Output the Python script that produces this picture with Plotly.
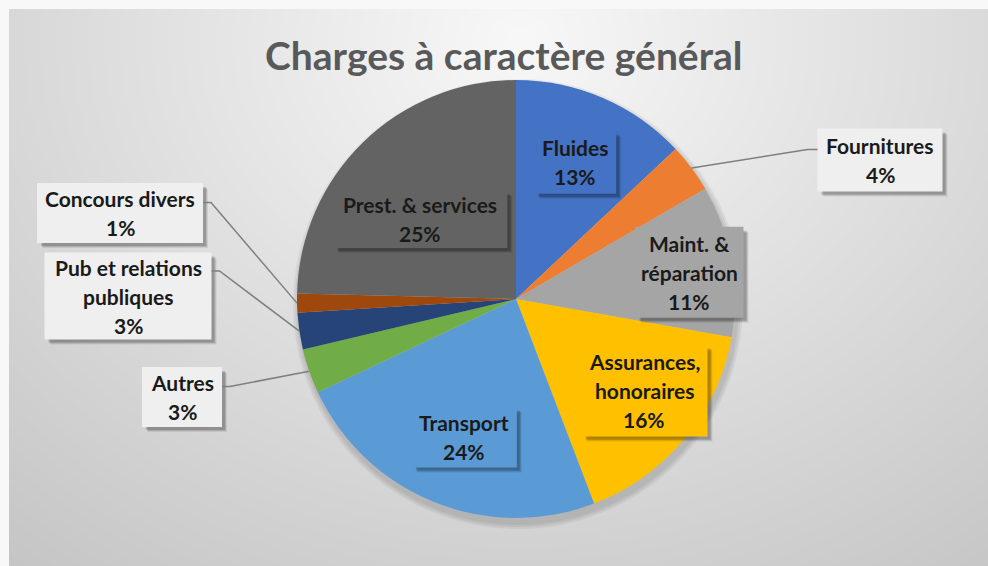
import base64, struct, zlib, math
import numpy as np
import plotly.graph_objects as go

# ---------------- data ----------------
categories = ["Fluides", "Fournitures", "Maint. & réparation", "Assurances, honoraires",
              "Transport", "Autres", "Pub et relations publiques", "Concours divers",
              "Prest. & services"]
values = [13.0, 3.6, 11.2, 16.4, 23.8, 3.3, 2.7, 1.4, 24.6]
label_lines = [["Fluides"], ["Fournitures"], ["Maint. &", "réparation"],
               ["Assurances,", "honoraires"], ["Transport"], ["Autres"],
               ["Pub et relations", "publiques"], ["Concours divers"], ["Prest. & services"]]
colors = ["#4472C4", "#ED7D31", "#A5A5A5", "#FFC000", "#5B9BD5", "#70AD47",
          "#264478", "#9E480E", "#636363"]
title_text = "Charges à caractère général"

# ---------------- layout constants (pixels) ----------------
W, H = 988, 566
CX, CY, R = 516, 299, 219
FONT = "Lato"
FSIZE = 21
LINE_H = 29


def px(x):
    return x / W


def py(y):
    return 1 - y / H


def mid_angle(i):
    tot = sum(values)
    before = sum(values[:i])
    frac = (before + values[i] / 2) / tot
    return math.radians(90 - 360 * frac)


def polar(i, rf):
    a = mid_angle(i)
    return CX + rf * R * math.cos(a), CY - rf * R * math.sin(a)


# ---------------- background gradient image ----------------
BX0, BY0 = 9, 9
bw, bh = W - BX0, H - BY0
yy, xx = np.mgrid[0:bh, 0:bw]
d = np.sqrt(((xx + BX0 - 520) / 720.0) ** 2 + ((yy + BY0 - 40) / 600.0) ** 2)
g = np.clip(248 - 45 * np.clip(d, 0, 1.15), 0, 255).astype(np.uint8)
raw = b"".join(b"\x00" + g[r].tobytes() for r in range(bh))


def chunk(t, data):
    c = struct.pack(">I", len(data)) + t + data
    return c + struct.pack(">I", zlib.crc32(t + data) & 0xFFFFFFFF)


png = (b"\x89PNG\r\n\x1a\n" + chunk(b"IHDR", struct.pack(">IIBBBBB", bw, bh, 8, 0, 0, 0, 0))
       + chunk(b"IDAT", zlib.compress(raw, 9)) + chunk(b"IEND", b""))
src = "data:image/png;base64," + base64.b64encode(png).decode()

fig = go.Figure()
fig.add_trace(go.Pie(
    labels=categories, values=values, sort=False, direction="clockwise", rotation=0,
    marker=dict(colors=colors, line=dict(width=0)), textinfo="none", hoverinfo="label+percent",
    showlegend=False,
    domain=dict(x=[px(CX - R), px(CX + R)], y=[py(CY + R), py(CY - R)]),
))

shapes = []
annotations = []

# pie soft shadow
for k, a in enumerate([0.05, 0.05, 0.05]):
    rr = R + 2 + 2 * k
    shapes.append(dict(type="circle", xref="paper", yref="paper", layer="below",
                       x0=px(CX + 2 - rr), x1=px(CX + 2 + rr), y0=py(CY + 5 + rr), y1=py(CY + 5 - rr),
                       fillcolor=f"rgba(0,0,0,{a})", line=dict(width=0)))

# label boxes: inside labels via polar anchor (r fraction, shift), outside via fixed box centers
inside = {0: (0.68, (0, 0), 82, 63), 2: (0.8, (1, 4), 108, 91), 3: (0.72, (7, -9), 126, 92),
          4: (0.68, (4, 0), 105, 61), 8: (0.58, (-7, 11), 174, 58)}
outside = {1: ((880, 160), 125, 63, "left"), 7: ((120, 213), 166, 60, "right"),
           6: ((128, 296), 167, 87, "right"), 5: ((182, 397), 80, 60, "right")}

OUT_FILL = "#EFEFEF"


def box(cx, cy, w, h, fill):
    x0, x1, y0, y1 = cx - w / 2, cx + w / 2, cy - h / 2, cy + h / 2
    # shadow
    for k, a in enumerate([0.08, 0.12, 0.16]):
        o = 5 - k
        shapes.append(dict(type="rect", xref="paper", yref="paper", layer="above",
                           x0=px(x0 + o + 1), x1=px(x1 + o), y0=py(y1 + o), y1=py(y0 + o + 1),
                           fillcolor=f"rgba(0,0,0,{a})", line=dict(width=0)))
    shapes.append(dict(type="rect", xref="paper", yref="paper", layer="above",
                       x0=px(x0), x1=px(x1), y0=py(y1), y1=py(y0),
                       fillcolor=fill, line=dict(width=0)))
    return x0, x1, y0, y1


def text_lines(i, cx, cy):
    lines = label_lines[i] + [f"{values[i]:.0f}%"]
    n = len(lines)
    for j, t in enumerate(lines):
        yl = cy + (j - (n - 1) / 2) * LINE_H
        annotations.append(dict(text=f"<b>{t}</b>", x=px(cx), y=py(yl), xref="paper", yref="paper",
                                showarrow=False, xanchor="center", yanchor="middle",
                                font=dict(family=FONT, size=FSIZE, color="#1A1A1A")))


for i, (rf, (sx, sy), w, h) in inside.items():
    ax, ay = polar(i, rf)
    cx, cy = ax + sx, ay + sy
    box(cx, cy, w, h, colors[i])
    text_lines(i, cx, cy)

for i, ((cx, cy), w, h, side) in outside.items():
    x0, x1, y0, y1 = box(cx, cy, w, h, OUT_FILL)
    text_lines(i, cx, cy)
    n = len(label_lines[i]) + 1
    ly = cy - (n - 1) / 2 * LINE_H + 4
    ex, ey = polar(i, 1.0)
    if side == "left":
        bx, kx = x0, x0 - 10
    else:
        bx, kx = x1, x1 + 8
    path = f"M {px(ex)},{py(ey)} L {px(kx)},{py(ly)} L {px(bx)},{py(ly)}"
    shapes.append(dict(type="path", xref="paper", yref="paper", layer="above", path=path,
                       line=dict(color="#7F7F7F", width=1.5)))

annotations.append(dict(text=f"<b>{title_text}</b>", x=px(503), y=py(55), xref="paper", yref="paper",
                        showarrow=False, xanchor="center", yanchor="middle",
                        font=dict(family=FONT, size=39, color="#595959")))

fig.update_layout(
    width=W, height=H, margin=dict(l=0, r=0, t=0, b=0),
    paper_bgcolor="#F8F8F8", plot_bgcolor="rgba(0,0,0,0)",
    images=[dict(source=src, xref="paper", yref="paper", x=px(BX0), y=py(BY0),
                 sizex=bw / W, sizey=bh / H, sizing="stretch", layer="below",
                 xanchor="left", yanchor="top")],
    shapes=shapes, annotations=annotations,
)

fig.write_html("out.html", config={"displayModeBar": False},
               post_script="document.body.style.margin='0';")
